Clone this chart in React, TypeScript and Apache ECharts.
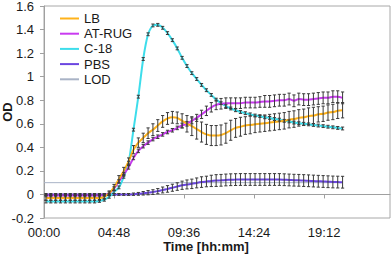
import React, { useEffect, useRef } from "react";
import * as echarts from "echarts";

// sampling grid (minutes): first reading and step
const START_MIN = 8;
const STEP_MIN = 20;

const LB = [
  -0.03, -0.03, -0.03, -0.03, -0.03, -0.03, -0.03, -0.03, -0.03, -0.03, -0.03, -0.03,
  -0.02, 0.01, 0.06, 0.13, 0.2, 0.28, 0.38, 0.44, 0.48, 0.52, 0.55, 0.585, 0.62, 0.645,
  0.655, 0.65, 0.625, 0.6, 0.58, 0.555, 0.53, 0.51, 0.5, 0.5, 0.505, 0.52, 0.545, 0.565,
  0.575, 0.585, 0.59, 0.595, 0.6, 0.605, 0.61, 0.615, 0.62, 0.625, 0.635, 0.64, 0.65,
  0.655, 0.665, 0.67, 0.68, 0.685, 0.695, 0.7, 0.71, 0.715,
];
const LB_ERR = [
  0.02, 0.02, 0.02, 0.02, 0.02, 0.02, 0.02, 0.02, 0.02, 0.02, 0.02, 0.02,
  0.02, 0.02, 0.025, 0.03, 0.03, 0.03, 0.035, 0.04, 0.04, 0.045, 0.05, 0.05, 0.05, 0.05,
  0.05, 0.05, 0.06, 0.07, 0.08, 0.085, 0.085, 0.085, 0.085, 0.085, 0.085, 0.085, 0.085, 0.08,
  0.08, 0.075, 0.075, 0.07, 0.07, 0.07, 0.07, 0.07, 0.07, 0.07, 0.07, 0.07, 0.07,
  0.07, 0.07, 0.07, 0.065, 0.065, 0.065, 0.065, 0.065, 0.065,
];
const AT_RUG = [
  -0.01, -0.01, -0.01, -0.01, -0.01, -0.01, -0.01, -0.01, -0.01, -0.01, -0.01, -0.01,
  -0.005, 0.01, 0.05, 0.11, 0.17, 0.23, 0.31, 0.37, 0.41, 0.44, 0.47, 0.49, 0.51, 0.53,
  0.545, 0.565, 0.585, 0.6, 0.625, 0.65, 0.68, 0.71, 0.74, 0.76, 0.77, 0.775, 0.775, 0.775,
  0.775, 0.78, 0.78, 0.78, 0.785, 0.79, 0.79, 0.795, 0.8, 0.8, 0.81, 0.795, 0.81,
  0.805, 0.805, 0.81, 0.815, 0.82, 0.82, 0.83, 0.83, 0.82,
];
const AT_RUG_ERR = [
  0.01, 0.01, 0.01, 0.01, 0.01, 0.01, 0.01, 0.01, 0.01, 0.01, 0.01, 0.01,
  0.01, 0.012, 0.015, 0.015, 0.015, 0.015, 0.015, 0.015, 0.015, 0.015, 0.015, 0.015, 0.015, 0.015,
  0.015, 0.015, 0.02, 0.02, 0.025, 0.03, 0.035, 0.04, 0.04, 0.04, 0.045, 0.045, 0.045, 0.045,
  0.045, 0.045, 0.045, 0.045, 0.045, 0.05, 0.05, 0.05, 0.05, 0.05, 0.05, 0.05, 0.05,
  0.05, 0.05, 0.05, 0.05, 0.05, 0.05, 0.05, 0.05, 0.05,
];
const C18 = [
  -0.06, -0.06, -0.06, -0.06, -0.06, -0.06, -0.06, -0.06, -0.06, -0.06, -0.06, -0.055,
  -0.045, -0.02, 0.02, 0.06, 0.15, 0.27, 0.55, 0.83, 1.15, 1.36, 1.435, 1.44, 1.415, 1.37,
  1.31, 1.24, 1.16, 1.09, 1.03, 0.98, 0.93, 0.885, 0.845, 0.805, 0.775, 0.75, 0.73, 0.715,
  0.7, 0.69, 0.68, 0.67, 0.665, 0.655, 0.65, 0.64, 0.635, 0.625, 0.62, 0.61, 0.605,
  0.6, 0.595, 0.59, 0.585, 0.58, 0.575, 0.57, 0.565, 0.56,
];
const C18_ERR = [
  0.012, 0.012, 0.012, 0.012, 0.012, 0.012, 0.012, 0.012, 0.012, 0.012, 0.012, 0.012,
  0.012, 0.012, 0.012, 0.012, 0.012, 0.012, 0.012, 0.012, 0.012, 0.012, 0.012, 0.012, 0.012, 0.012,
  0.012, 0.012, 0.012, 0.012, 0.012, 0.012, 0.012, 0.012, 0.012, 0.012, 0.012, 0.012, 0.012, 0.012,
  0.012, 0.012, 0.012, 0.012, 0.012, 0.012, 0.012, 0.012, 0.012, 0.012, 0.012, 0.012, 0.012,
  0.012, 0.012, 0.012, 0.012, 0.012, 0.012, 0.012, 0.012, 0.012,
];
const PBS = [
  0, 0, 0, 0, 0, 0, 0, 0, 0, 0, 0, 0,
  0, 0, 0, 0, 0, 0, 0.002, 0.005, 0.01, 0.015, 0.02, 0.028, 0.038, 0.047,
  0.057, 0.067, 0.078, 0.085, 0.09, 0.098, 0.105, 0.11, 0.115, 0.118, 0.12, 0.123, 0.125, 0.126,
  0.127, 0.127, 0.127, 0.127, 0.127, 0.127, 0.127, 0.127, 0.127, 0.125, 0.123, 0.121, 0.12,
  0.118, 0.116, 0.114, 0.112, 0.11, 0.108, 0.106, 0.105, 0.104,
];
const PBS_ERR = [
  0.008, 0.008, 0.008, 0.008, 0.008, 0.008, 0.008, 0.008, 0.008, 0.008, 0.008, 0.008,
  0.008, 0.008, 0.008, 0.008, 0.008, 0.008, 0.01, 0.012, 0.015, 0.018, 0.02, 0.022, 0.025, 0.028,
  0.03, 0.032, 0.035, 0.038, 0.04, 0.042, 0.045, 0.045, 0.048, 0.05, 0.05, 0.05, 0.05, 0.05,
  0.05, 0.05, 0.05, 0.05, 0.05, 0.05, 0.05, 0.05, 0.05, 0.05, 0.05, 0.05, 0.05,
  0.05, 0.05, 0.05, 0.05, 0.05, 0.05, 0.05, 0.05, 0.05,
];
const LOD_VALUE = 0.1;

const TIMES = LB.map((_, i) => START_MIN + STEP_MIN * i);

const X_TICK_INTERVAL = 288; // 04:48
const X_MAX = 1423;

const X_TITLE = "Time [hh:mm]";
const Y_TITLE = "OD";

const COLORS = {
  LB: "#FFB21A",
  "AT-RUG": "#C93BF0",
  "C-18": "#3DDDEB",
  PBS: "#6B46E0",
  LOD: "#A9B3C6",
};

const FONT = "Liberation Sans, Arial, sans-serif";

function fmtTime(v: number) {
  const h = Math.floor(v / 60);
  const m = Math.round(v - h * 60);
  return String(h).padStart(2, "0") + ":" + String(m).padStart(2, "0");
}

function lineSeries(name: string, values: number[], width = 2) {
  return {
    name,
    type: "line",
    data: values.map((v, i) => [TIMES[i], v]),
    showSymbol: false,
    symbol: "none",
    smooth: 0.25,
    lineStyle: { color: (COLORS as any)[name], width },
    itemStyle: { color: (COLORS as any)[name] },
    z: 2,
  };
}

function errSeries(name: string, values: number[], errs: number[]) {
  return {
    name: name + " error",
    type: "custom",
    data: values.map((v, i) => [TIMES[i], v - errs[i], v + errs[i]]),
    encode: { x: 0, y: [1, 2] },
    z: 3,
    silent: true,
    renderItem: (params: any, api: any) => {
      const x = api.value(0);
      const lo = api.coord([x, api.value(1)]);
      const hi = api.coord([x, api.value(2)]);
      const cw = 1.6;
      const style = { stroke: "#3a3a3a", lineWidth: 1 };
      return {
        type: "group",
        children: [
          { type: "line", shape: { x1: lo[0], y1: lo[1], x2: hi[0], y2: hi[1] }, style },
          { type: "line", shape: { x1: lo[0] - cw, y1: lo[1], x2: lo[0] + cw, y2: lo[1] }, style },
          { type: "line", shape: { x1: hi[0] - cw, y1: hi[1], x2: hi[0] + cw, y2: hi[1] }, style },
        ],
      };
    },
  };
}

export default function App() {
  const ref = useRef<HTMLDivElement>(null);
  useEffect(() => {
    if (!ref.current) return;
    const chart = echarts.init(ref.current, undefined, { renderer: "svg" });
    chart.setOption({
      animation: false,
      textStyle: { fontFamily: FONT },
      grid: {
        left: 44,
        right: 2,
        top: 6,
        bottom: 36,
        show: true,
        borderColor: "#A8A8A8",
        borderWidth: 1,
        outerBoundsMode: "none",
        containLabel: false,
      },
      legend: {
        left: 55,
        top: 7,
        orient: "vertical",
        icon: "rect",
        itemWidth: 19,
        itemHeight: 2,
        itemGap: 2.2,
        data: ["LB", "AT-RUG", "C-18", "PBS", "LOD"],
        textStyle: { fontFamily: FONT, fontSize: 13, color: "#1a1a1a", lineHeight: 13 },
      },
      graphic: [
        {
          type: "text",
          x: 206,
          y: 246,
          silent: true,
          style: {
            text: X_TITLE,
            align: "center",
            verticalAlign: "middle",
            fontFamily: FONT,
            fontSize: 13,
            fontWeight: "bold",
            lineHeight: 13,
            fill: "#1a1a1a",
          },
        },
        {
          type: "text",
          x: 7,
          y: 112,
          rotation: Math.PI / 2,
          silent: true,
          style: {
            text: Y_TITLE,
            align: "center",
            verticalAlign: "middle",
            fontFamily: FONT,
            fontSize: 13,
            fontWeight: "bold",
            lineHeight: 12,
            fill: "#1a1a1a",
          },
        },
      ],
      xAxis: {
        type: "value",
        min: 0,
        max: X_MAX,
        interval: X_TICK_INTERVAL,
        splitLine: { show: false },
        axisLine: { lineStyle: { color: "#A0A0A0" } },
        axisTick: { show: true, length: 4, lineStyle: { color: "#A0A0A0" } },
        axisLabel: {
          formatter: (v: number) => fmtTime(v),
          fontFamily: FONT,
          fontSize: 13,
          color: "#1a1a1a",
          margin: 8,
          showMaxLabel: false,
        },
      },
      yAxis: {
        type: "value",
        min: -0.2,
        max: 1.6,
        interval: 0.2,
        splitLine: { show: false },
        axisLine: { show: true, lineStyle: { color: "#A0A0A0" } },
        axisTick: { show: true, length: 4, lineStyle: { color: "#A0A0A0" } },
        axisLabel: {
          formatter: (v: number) => String(+v.toFixed(1)),
          fontFamily: FONT,
          fontSize: 13,
          color: "#1a1a1a",
          margin: 10,
        },
      },
      series: [
        {
          name: "LOD",
          type: "line",
          data: [
            [0, LOD_VALUE],
            [TIMES[TIMES.length - 1], LOD_VALUE],
          ],
          showSymbol: false,
          symbol: "none",
          lineStyle: { color: COLORS.LOD, width: 1 },
          itemStyle: { color: COLORS.LOD },
          z: 1,
        },
        lineSeries("PBS", PBS),
        lineSeries("C-18", C18),
        lineSeries("AT-RUG", AT_RUG),
        lineSeries("LB", LB),
        errSeries("PBS", PBS, PBS_ERR),
        errSeries("C-18", C18, C18_ERR),
        errSeries("AT-RUG", AT_RUG, AT_RUG_ERR),
        errSeries("LB", LB, LB_ERR),
      ],
    });
    return () => chart.dispose();
  }, []);
  return (
    <div
      ref={ref}
      style={{ position: "absolute", left: 0, top: 0, width: 392, height: 254 }}
    />
  );
}
